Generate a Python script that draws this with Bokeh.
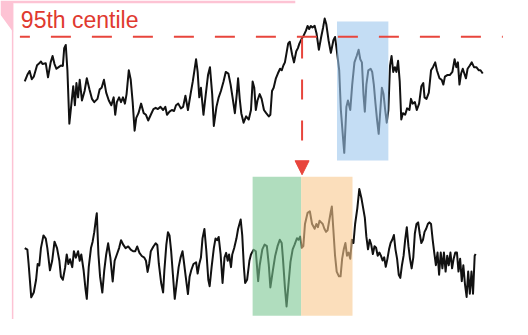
from bokeh.plotting import figure
from bokeh.models import Range1d, Arrow, NormalHead, Label
from bokeh.embed import file_html
from bokeh.resources import INLINE

# ---- data (time axis / signal level) ----
top_time = [25, 27.7, 30, 32.3, 34.3, 37.7, 40, 41.7, 43.3, 46.7, 49, 51.7, 53.7, 55.7, 57.7, 60, 62.3, 64.3,
            65.7, 67.3, 69, 71, 73.3, 75, 76.7, 78.3, 80, 81.7, 84, 86.7, 89, 91.7, 94.3, 96.7, 100, 102.3,
            104.3, 106.7, 109, 111.7, 114.3, 116.7, 118.3, 120, 122.3, 124.3, 126.3, 128.3, 130, 132.3, 134.3,
            136.3, 138.3, 140, 142.3, 145, 147.7, 150, 152.3, 155, 157.7, 160, 162.3, 165, 167.7, 170, 171.7,
            174.3, 176.7, 179, 181, 183.3, 186, 188.3, 190.7, 193.3, 196, 198.3, 200, 201.7, 203.3, 205, 206.7,
            209.3, 211.7, 214, 216, 218.3, 220, 222.7, 225, 227.3, 230, 232.3, 235, 237.3, 239.3, 241.7, 244,
            245, 246.7, 248.3, 250.7, 253.3, 256, 258.3, 260, 261.7, 263.3, 265, 267.3, 269.3, 271.7, 274,
            276.7, 278.3, 280, 281.7, 284, 286, 288.3, 290, 291.7, 293.3, 295, 296.7, 298.3, 300.7, 302.7, 305,
            306.7, 308.3, 310.7, 312.7, 315, 316.7, 318.3, 320, 321.7, 324, 326, 328.3, 330.7, 332.7, 334.3,
            336, 338.3, 340.7, 343.3, 345, 346.7, 349.3, 351, 353.3, 354.5, 356.7, 358.3, 360.7, 362.7, 365,
            367.3, 369.3, 371, 372.7, 374.3, 375.7, 377.3, 379.3, 381.7, 383.3, 385, 386.7, 388.3, 390, 391.7,
            393.3, 395, 396.7, 398.3, 400, 401.7, 403.3, 405, 406.7, 408.3, 410, 411.7, 413.3, 415, 417.3,
            419.3, 421.7, 423.3, 425, 427.3, 429.3, 431.7, 434, 436, 437.3, 439.3, 441.7, 444, 446, 448.3, 450,
            452.7, 455, 456.7, 458.3, 460.7, 463.3, 466, 468.3, 470, 471.7, 473.3, 475, 476.7, 478.3, 480,
            481.7, 484, 486, 488.3, 490.7, 493.3, 495, 497.3]
top_signal = [85, 78, 74, 82.7, 80, 68, 66, 64, 66.7, 66, 80.7, 65, 58.3, 66.7, 71.7, 70, 68.3, 68.7,
              50, 46.7, 73.3, 129.3, 106.7, 90, 110, 86.7, 101.7, 83.3, 105, 95, 81.7, 93.3, 103.3, 106.7, 103.3, 93.3,
              91.7, 83.3, 96.7, 105, 110, 101.7, 120, 106.7, 101.7, 106.7, 101.7, 108.3, 98.3, 73.3, 83.3,
              106.7, 136.7, 123.3, 118.3, 108.3, 118.3, 120, 126, 120, 114, 112.7, 114, 111.7, 115, 111.7, 120,
              116.7, 115, 116, 110, 108.3, 113.3, 111.7, 100, 115, 98.3, 85, 73.3, 61.7, 75, 101.7, 91.7,
              120, 98.3, 78.3, 70, 98.3, 131.7, 111.7, 101.7, 95, 85, 75, 76.7, 88.3, 101.7, 118.3, 95,
              81.7, 103.3, 118.3, 128.3, 121.7, 125, 115, 85, 91.7, 115, 105, 98.3, 103.3, 115, 118.3,
              121.7, 120, 95, 91.7, 81.7, 76.7, 71.7, 73.3, 68.3, 65, 55, 45, 43.3, 56.7, 65, 53.3,
              50, 45, 40, 36.7, 31.7, 26.7, 30, 26.7, 28.3, 26.7, 35, 51.7, 38.3, 28.3, 19,
              25, 41.7, 55, 41.7, 38.3, 51.7, 73.3, 115, 145, 160, 111.7, 105, 115, 88.3, 65,
              58.3, 51.7, 61.7, 65, 98.3, 116.7, 88.3, 73.3, 71.7, 75, 88.3, 108.3, 125, 140, 115,
              91.7, 98.3, 115, 128.3, 115, 68.3, 58.3, 75, 70, 75, 63.3, 85, 125, 118.3, 120,
              113.3, 115, 103.3, 108.3, 106.7, 115, 108.3, 90, 86.7, 101.7, 103.3, 96.7, 73.3, 70, 65, 73.3,
              81.7, 83.3, 88.3, 80, 78.3, 78.3, 75, 61.7, 70, 65, 88.3, 76.7, 71.7, 76.7, 81.7,
              71.7, 68.3, 65, 70, 70, 73.3, 73.3, 76.7]

bottom_time = [25, 27.7, 29, 31.7, 34.3, 36.7, 38.3, 40, 41.7, 44.3, 46.7, 48.3, 51, 53.3, 55.7, 58.3, 60.7,
               62.3, 64.3, 66.7, 68.3, 70, 71.7, 74, 75.7, 77.7, 80, 81.7, 83.3, 85.7, 87.7, 89, 91, 93.3, 95,
               96.7, 98.3, 99.3, 101, 102.7, 105, 107, 109, 111, 113.3, 115.7, 117.7, 120, 122.3, 124.3, 126.7,
               129, 131.7, 134.3, 136.7, 139, 141, 143.3, 145.7, 148.3, 150, 151.7, 153.3, 155, 157.7, 160,
               161.7, 163.3, 165.7, 167.7, 169, 171, 172.7, 174.3, 176, 177.7, 179.7, 181.7, 183.7, 185.7,
               187.7, 189, 191, 193.3, 195, 196.7, 199, 201.7, 203.3, 205, 206.7, 208.3, 210.3, 212.3, 214.3,
               215.7, 217.7, 220, 221.7, 223.3, 225, 227, 229, 231, 232.7, 234.3, 235.7, 237.7, 239, 241,
               243.3, 245, 247.7, 249.3, 251, 252.3, 254.3, 256.7, 258.3, 261, 263.3, 265.7, 267.3, 270,
               272.3, 274.7, 276.7, 278.3, 280.7, 283.3, 285.7, 288, 290, 291.3, 293.3, 295, 296.7, 299,
               301.3, 303.3, 305.7, 307.3, 309, 310.7, 312.3, 314, 316.7, 319, 321.3, 324, 325.7, 327.3, 329,
               330.7, 332.3, 334, 335.7, 337.3, 339, 340.7, 341.7, 343.3, 345, 346.7, 349, 350.7, 352.3, 354,
               355.7, 357.3, 359, 360.7, 362.3, 364, 365.7, 368, 370, 372.3, 374, 375.7, 377.3, 379, 380.7,
               382.3, 384, 385.7, 387.3, 389, 390.7, 392.3, 394, 395.7, 397.3, 399, 400.7, 402.3, 404, 405.7,
               407.3, 409, 410.7, 412.3, 414, 415.7, 417.3, 419, 420.7, 422.3, 424, 425.7, 427.3, 429, 430.7,
               432.3, 434, 435.7, 437.3, 439, 440.7, 442.3, 444, 445.7, 447.3, 449, 450.7, 452.3, 454, 455.7,
               457.3, 459, 460.7, 462.3, 464, 465.7, 467.3, 469, 470.7, 472.3, 474, 475.7, 477.3, 479, 480.7,
               482.3, 484, 485.7, 487.3, 489, 490]
bottom_signal = [260, 261.7, 276.7, 311.7, 306.7, 293.3, 276.7, 278.3, 260, 246.7, 250, 260, 283.3, 273.3,
                 253.3, 260, 273.3, 290, 293.3, 280, 266.7, 276.7, 271.7, 280, 263.3, 270, 263.3, 273.3, 266.7,
                 283.3, 303.3, 313.3, 280, 260, 253.3, 243.3, 230, 223.3, 266.7, 290, 306.7, 283.3, 266.7, 255,
                 270, 295, 273.3, 266.7, 260, 251.7, 256.7, 260, 258.3, 261.7, 263.3, 263.3, 258.3, 265, 268.3,
                 270, 273.3, 285, 276.7, 263.3, 258.3, 255, 256.7, 276.7, 296.7, 306.7, 283.3, 256.7, 243.3,
                 246.7, 263.3, 286.7, 313.3, 296.7, 280, 270, 263.3, 273.3, 290, 308.3, 290, 283.3, 276.7, 275,
                 286.7, 276.7, 270, 250, 240, 263.3, 293.3, 300, 280, 260, 250, 251.7, 248.3, 266.7, 296.7, 270,
                 265, 273.3, 266.7, 280, 266.7, 260, 250, 240, 230, 246.7, 280, 296.7, 293.3, 273.3, 266.7,
                 261.7, 263.3, 294.7, 278, 261.3, 256.3, 258, 278, 301.3, 284.7, 268, 258, 251.3, 254.7, 271.3,
                 301.3, 321.3, 301.3, 274.7, 261.3, 256.3, 249.7, 251.3, 248, 259.7, 258, 234.7, 223, 221.3,
                 234.7, 239.7, 234.7, 238, 231.3, 233, 234.7, 239.7, 243, 241.3, 231.3, 221.3, 216.3, 241.3, 268,
                 284.7, 289.7, 289.7, 271.3, 261.3, 254.7, 268, 264.7, 271.3, 251.3, 254.7, 234.7, 218, 198, 208,
                 218, 228, 248, 261.3, 251.3, 256.3, 266.3, 258, 259.7, 268, 264.7, 268, 273, 269.7, 279.7,
                 271.3, 261.3, 254.7, 251.3, 246.3, 261.3, 271.3, 288, 291.3, 278, 268, 251.3, 238, 258, 271.3,
                 281.3, 269.7, 244.7, 234.7, 233, 244.7, 254.7, 251.3, 243, 239.7, 234.7, 233, 234.7, 251.3,
                 264.7, 278, 264.7, 288, 264.7, 281.3, 264.7, 284.7, 268, 278, 264.7, 281.3, 271.3, 264.7,
                 264.7, 284.7, 271.3, 294.7, 278, 298, 311.3, 284.7, 308, 284.7, 308, 268, 266.3]

centile_label = "95th centile"
centile_level = 38
event_time = 311

# shaded windows
window_start = [347, 260, 310]
window_end = [400, 310, 363]
window_top = [22, 185, 185]
window_bottom = [168, 331, 331]
window_color = ["#9cc6ec", "#7cc793", "#f8c88e"]

RED = "#e8453c"
PINK = "#fdc3d4"

p = figure(width=512, height=319, x_range=Range1d(0, 528), y_range=Range1d(335, 0),
           output_backend="svg", toolbar_location=None, x_axis_type=None, y_axis_type=None,
           min_border=0, min_border_left=0, min_border_right=0, min_border_top=0, min_border_bottom=0,
           background_fill_color="white", border_fill_color="white", outline_line_color=None)
p.grid.visible = False

# pink callout border decoration
p.patch([0, 304, 304, 13, 13, 0], [0, 0, 3, 3, 33, 15], fill_color=PINK, line_color=None)
p.segment(x0=[12.5], y0=[3], x1=[12.5], y1=[335], line_color=PINK, line_width=1.5)

# traces
p.line(top_time, top_signal, line_color="#111111", line_width=2, line_join="round")
p.line(bottom_time, bottom_signal, line_color="#111111", line_width=2, line_join="round")

# translucent windows over the traces
p.quad(left=window_start, right=window_end, top=window_top, bottom=window_bottom,
       fill_color=window_color, fill_alpha=0.6, line_color=None)

# 95th centile threshold
p.segment(x0=[20], y0=[centile_level], x1=[518], y1=[centile_level], line_color=RED,
          line_width=2, line_dash="20 21", line_dash_offset=10)
p.add_layout(Label(x=21, y=21, text=centile_label, text_color="#e0392f", text_font_size="23px",
                   text_font="Liberation Sans", text_baseline="alphabetic"))

# arrow down to the lower trace
p.add_layout(Arrow(x_start=event_time, y_start=centile_level + 2, x_end=event_time, y_end=183,
                   line_color=RED, line_width=2, line_dash="20 21",
                   end=NormalHead(size=14, fill_color=RED, line_color=RED, line_width=1)))

open("out.html", "w").write(file_html(p, INLINE))
